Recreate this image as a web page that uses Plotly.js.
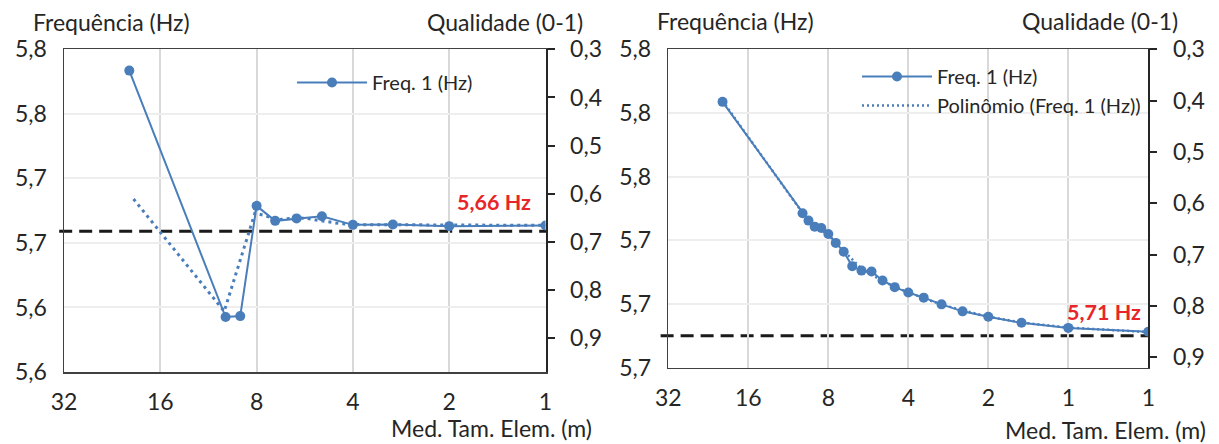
<!DOCTYPE html>
<html>
<head>
<meta charset="utf-8">
<script src="https://cdn.plot.ly/plotly-3.0.1.min.js"></script>
<style>
html,body{margin:0;padding:0;background:#fff;}
#chart{width:1219px;height:444px;}
</style>
</head>
<body>
<div id="chart"></div>
<script>
// ---------- data: left panel ----------
const leftSize = [20, 10, 9, 8, 7, 6, 5, 4, 3, 2, 1];
const leftFreq = [5.7835, 5.5926, 5.5933, 5.6787, 5.6671, 5.6690, 5.6707, 5.6640, 5.6643, 5.6630, 5.6635];
const leftDotSize = [19.4, 10.1, 8.1, 7.6, 6.9, 6.0, 5.6, 4.8, 4.4, 4, 3, 2, 1];
const leftDotFreq = [5.684, 5.597, 5.673, 5.6715, 5.668, 5.6694, 5.669, 5.6663, 5.665, 5.6642, 5.6641, 5.6636, 5.6636];

// ---------- data: right panel ----------
const rightSize = [20, 10, 9.5, 9, 8.5, 8, 7.5, 7, 6.5, 6, 5.5, 5, 4.5, 4, 3.5, 3, 2.5, 2, 1.5, 1, 0.5];
const rightFreq = [5.7835, 5.7485, 5.7462, 5.7443, 5.7439, 5.7420, 5.7392, 5.7364, 5.7319, 5.7305, 5.7302,
                   5.7274, 5.7253, 5.7236, 5.7220, 5.7199, 5.7177, 5.7160, 5.7141, 5.7125, 5.7113];
const rightPolySize = [20, 16, 12, 10, 9, 8, 7, 6, 5, 4, 3, 2, 1.5, 1, 0.5];
const rightPolyFreq = [5.7838, 5.7724, 5.7580, 5.7486, 5.7447, 5.7417, 5.7367, 5.7311, 5.7272, 5.7236, 5.7198, 5.7160, 5.7142, 5.7126, 5.7112];

// ---------- reference lines ----------
const refFreq = [5.659, 5.710];
const refLabels = ['5,66 Hz', '5,71 Hz'];

// ---------- tick labels & texts ----------
const xTickValsLeft = [32, 16, 8, 4, 2, 1];
const xTickTextLeft = ['32', '16', '8', '4', '2', '1'];
const xTickValsRight = [32, 16, 8, 4, 2, 1, 0.5];
const xTickTextRight = ['32', '16', '8', '4', '2', '1', '1'];
const leftYTicks = [5.55, 5.60, 5.65, 5.70, 5.75, 5.80];
const leftYText = ['5,6', '5,6', '5,7', '5,7', '5,8', '5,8'];
const rightYTicks = [5.70, 5.72, 5.74, 5.76, 5.78, 5.80];
const rightYText = ['5,7', '5,7', '5,7', '5,8', '5,8', '5,8'];
const qualTicks = [0.3, 0.4, 0.5, 0.6, 0.7, 0.8, 0.9];
const qualText = ['0,3', '0,4', '0,5', '0,6', '0,7', '0,8', '0,9'];
const seriesName = 'Freq. 1 (Hz)';
const trendName = 'Polinômio (Freq. 1 (Hz))';
const yTitle = 'Frequência (Hz)';
const y2Title = 'Qualidade (0-1)';
const xTitle = 'Med. Tam. Elem. (m)';

// ---------- style ----------
const W = 1219, H = 444;
const BLUE = '#4a7ebb';
const FONT = 'Lato, "Open Sans", sans-serif';
const TXT = '#262626';
const FS = 23;
const px = v => v / W;
const py = v => 1 - v / H;

const traces = [
  {x: leftDotSize, y: leftDotFreq, xaxis: 'x', yaxis: 'y', mode: 'lines', showlegend: false,
   line: {color: BLUE, width: 3, dash: '3px,4px'}, hoverinfo: 'skip'},
  {x: leftSize, y: leftFreq, xaxis: 'x', yaxis: 'y', mode: 'lines+markers', name: seriesName,
   line: {color: BLUE, width: 2}, marker: {color: BLUE, size: 10}, legend: 'legend'},
  {x: [], y: [], xaxis: 'x', yaxis: 'y2', showlegend: false, mode: 'lines'},
  {x: rightPolySize, y: rightPolyFreq, xaxis: 'x2', yaxis: 'y3', mode: 'lines', name: trendName,
   line: {color: BLUE, width: 2.5, dash: '2px,3px'}, legend: 'legend2', legendrank: 2},
  {x: rightSize, y: rightFreq, xaxis: 'x2', yaxis: 'y3', mode: 'lines+markers', name: seriesName,
   line: {color: BLUE, width: 2}, marker: {color: BLUE, size: 10}, legend: 'legend2', legendrank: 1},
  {x: [], y: [], xaxis: 'x2', yaxis: 'y4', showlegend: false, mode: 'lines'}
];

const xCommon = {
  type: 'log', showline: true, mirror: true, linecolor: '#404040', linewidth: 1.5,
  showgrid: true, gridcolor: '#d9d9d9', gridwidth: 2, zeroline: false,
  ticks: '', tickfont: {family: FONT, size: FS, color: TXT}, ticklabelstandoff: 9,
  tickmode: 'array', automargin: false, fixedrange: true
};
const yCommon = {
  showline: true, linecolor: '#404040', linewidth: 1.5,
  showgrid: true, gridcolor: '#eeeeee', gridwidth: 2, zeroline: false,
  ticks: '', tickfont: {family: FONT, size: FS, color: TXT}, ticklabelstandoff: 11,
  tickmode: 'array', automargin: false, fixedrange: true
};
const qCommon = {
  side: 'right', showline: true, linecolor: '#262626', linewidth: 2,
  showgrid: false, zeroline: false, ticks: 'outside', ticklen: 7, tickwidth: 2, tickcolor: '#262626',
  tickfont: {family: FONT, size: FS, color: TXT}, ticklabelstandoff: 11,
  tickmode: 'array', tickvals: qualTicks, ticktext: qualText, automargin: false, fixedrange: true
};

const L = {x0: 64, x1: 545.5, top: 49.3, bot: 372};
const R = {x0: 668.3, x1: 1148.3, top: 49.3, bot: 367.7};

const layout = {
  width: W, height: H,
  margin: {l: 0, r: 0, t: 0, b: 0},
  paper_bgcolor: '#ffffff', plot_bgcolor: '#ffffff',
  font: {family: FONT, color: TXT},
  xaxis: Object.assign({}, xCommon, {domain: [px(L.x0), px(L.x1)], anchor: 'y',
    range: [Math.log10(32), Math.log10(1)], tickvals: xTickValsLeft, ticktext: xTickTextLeft}),
  yaxis: Object.assign({}, yCommon, {domain: [py(L.bot), py(L.top)], anchor: 'x',
    range: [5.55, 5.80], tickvals: leftYTicks, ticktext: leftYText}),
  yaxis2: Object.assign({}, qCommon, {overlaying: 'y', anchor: 'x', range: [0.97, 0.3]}),
  xaxis2: Object.assign({}, xCommon, {domain: [px(R.x0), px(R.x1)], anchor: 'y3',
    range: [Math.log10(32), Math.log10(0.5)], tickvals: xTickValsRight, ticktext: xTickTextRight}),
  yaxis3: Object.assign({}, yCommon, {domain: [py(R.bot), py(R.top)], anchor: 'x2',
    range: [5.70, 5.80], tickvals: rightYTicks, ticktext: rightYText}),
  yaxis4: Object.assign({}, qCommon, {overlaying: 'y3', anchor: 'x2', range: [0.92, 0.3]}),
  legend: {x: px(292), y: py(63), xanchor: 'left', yanchor: 'top', bgcolor: 'rgba(0,0,0,0)',
    font: {family: FONT, size: 20, color: TXT}, itemwidth: 70, tracegroupgap: 0},
  legend2: {x: px(857), y: py(57), xanchor: 'left', yanchor: 'top', bgcolor: 'rgba(0,0,0,0)',
    font: {family: FONT, size: 20, color: TXT}, itemwidth: 70, traceorder: 'normal'},
  shapes: [
    {type: 'line', xref: 'x domain', yref: 'y', x0: -0.01, x1: 1.005, y0: refFreq[0], y1: refFreq[0],
     line: {color: '#1a1a1a', width: 3, dash: '13px,7px'}, layer: 'below'},
    {type: 'line', xref: 'x2 domain', yref: 'y3', x0: -0.016, x1: 1.0, y0: refFreq[1], y1: refFreq[1],
     line: {color: '#1a1a1a', width: 3, dash: '13px,7px'}, layer: 'below'}
  ],
  annotations: [
    {text: refLabels[0], xref: 'paper', yref: 'paper', x: px(533), y: py(201.5), xanchor: 'right', yanchor: 'middle',
     showarrow: false, font: {family: FONT, size: 21.5, color: '#e8262a', weight: 'bold'}},
    {text: refLabels[1], xref: 'paper', yref: 'paper', x: px(1143), y: py(311.5), xanchor: 'right', yanchor: 'middle',
     showarrow: false, font: {family: FONT, size: 21.5, color: '#e8262a', weight: 'bold'}},
    {text: yTitle, xref: 'paper', yref: 'paper', x: px(31), y: py(22), xanchor: 'left', yanchor: 'middle',
     showarrow: false, font: {family: FONT, size: FS, color: TXT}},
    {text: y2Title, xref: 'paper', yref: 'paper', x: px(585), y: py(22), xanchor: 'right', yanchor: 'middle',
     showarrow: false, font: {family: FONT, size: FS, color: TXT}},
    {text: xTitle, xref: 'paper', yref: 'paper', x: px(594), y: py(428), xanchor: 'right', yanchor: 'middle',
     showarrow: false, font: {family: FONT, size: FS, color: TXT}},
    {text: yTitle, xref: 'paper', yref: 'paper', x: px(655), y: py(21), xanchor: 'left', yanchor: 'middle',
     showarrow: false, font: {family: FONT, size: FS, color: TXT}},
    {text: y2Title, xref: 'paper', yref: 'paper', x: px(1180), y: py(21), xanchor: 'right', yanchor: 'middle',
     showarrow: false, font: {family: FONT, size: FS, color: TXT}},
    {text: xTitle, xref: 'paper', yref: 'paper', x: px(1208), y: py(430), xanchor: 'right', yanchor: 'middle',
     showarrow: false, font: {family: FONT, size: FS, color: TXT}}
  ],
  separators: ',.',
  showlegend: true
};

Plotly.newPlot('chart', traces, layout, {displayModeBar: false, staticPlot: true});
</script>
</body>
</html>
